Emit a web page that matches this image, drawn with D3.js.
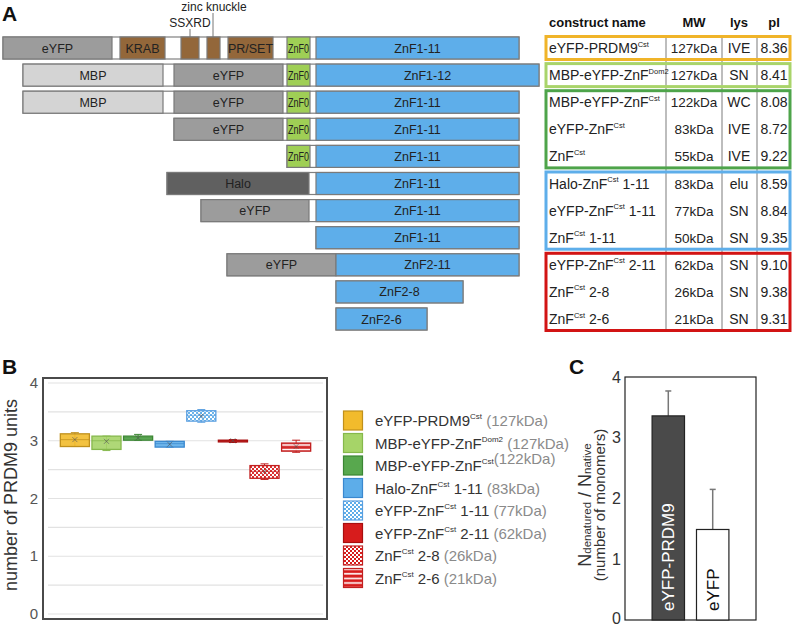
<!DOCTYPE html>
<html><head><meta charset="utf-8">
<script src="https://cdn.jsdelivr.net/npm/d3@7"></script>
<style>body{margin:0;background:#fff;} svg{font-family:"Liberation Sans",Arial,sans-serif;}</style>
</head><body><svg id="c" width="794" height="626"></svg>
<script>
// ---------------- DATA ----------------
// Panel A: construct extents (outline) and domains, in sequence units
const constructExtent = [[3,519],[23,539],[23,519],[174,519],[287,519],[167,519],[201,519],[316,519],[227,519],[336,463],[336,427]];
const constructDomains = [
  [["eYFP","eyfp",3,112],["KRAB","brown",120,165],["","brown",181,199],["","brown",207,220],["PR/SET","brown",228,273],["ZnF0","znf0",287,310],["ZnF1-11","znf",316,519]],
  [["MBP","mbp",23,163],["eYFP","eyfp",174,283],["ZnF0","znf0",287,310],["ZnF1-12","znf",316,539]],
  [["MBP","mbp",23,163],["eYFP","eyfp",174,283],["ZnF0","znf0",287,310],["ZnF1-11","znf",316,519]],
  [["eYFP","eyfp",174,283],["ZnF0","znf0",287,310],["ZnF1-11","znf",316,519]],
  [["ZnF0","znf0",287,310],["ZnF1-11","znf",316,519]],
  [["Halo","halo",167,309],["ZnF1-11","znf",316,519]],
  [["eYFP","eyfp",201,309],["ZnF1-11","znf",316,519]],
  [["ZnF1-11","znf",316,519]],
  [["eYFP","eyfp",227,336],["ZnF2-11","znf",336,519]],
  [["ZnF2-8","znf",336,463]],
  [["ZnF2-6","znf",336,427]]
];
const domainColors = {eyfp:"#9c9c9c", mbp:"#d4d4d4", halo:"#606060", brown:"#93673a", znf0:"#9fcf55", znf:"#5eaeea"};

// Table
const tableHeaders = ["construct name","MW","lys","pI"];
const tableNames = ["eYFP-PRDM9","MBP-eYFP-ZnF","MBP-eYFP-ZnF","eYFP-ZnF","ZnF","Halo-ZnF","eYFP-ZnF","ZnF","eYFP-ZnF","ZnF","ZnF"];
const tableSup = ["Cst","Dom2","Cst","Cst","Cst","Cst","Cst","Cst","Cst","Cst","Cst"];
const tableSuffix = ["","","","",""," 1-11"," 1-11"," 1-11"," 2-11"," 2-8"," 2-6"];
const tableMW = ["127kDa","127kDa","122kDa","83kDa","55kDa","83kDa","77kDa","50kDa","62kDa","26kDa","21kDa"];
const tableLys = ["IVE","SN","WC","IVE","IVE","elu","SN","SN","SN","SN","SN"];
const tablePI = ["8.36","8.41","8.08","8.72","9.22","8.59","8.84","9.35","9.10","9.38","9.31"];
const tableGroups = [[0,0,"#f0b429"],[1,1,"#a9d46a"],[2,4,"#4ea44a"],[5,7,"#5eaeea"],[8,10,"#d21414"]];

// Panel B box plots
const boxNames = ["eYFP-PRDM9","MBP-eYFP-ZnF","MBP-eYFP-ZnF","Halo-ZnF","eYFP-ZnF","eYFP-ZnF","ZnF","ZnF"];
const boxSup = ["Cst","Dom2","Cst","Cst","Cst","Cst","Cst","Cst"];
const legendSuffix = [" "," ",""," 1-11 "," 1-11 "," 2-11 "," 2-8 "," 2-6 "];
const boxKDa = ["(127kDa)","(127kDa)","(122kDa)","(83kDa)","(77kDa)","(62kDa)","(26kDa)","(21kDa)"];
const boxMin = [2.90,2.83,3.01,2.89,3.32,2.97,2.33,2.80];
const boxQ1  = [2.90,2.85,3.01,2.89,3.34,2.98,2.35,2.82];
const boxMed = [3.02,3.00,3.05,2.95,3.44,3.00,2.47,2.89];
const boxQ3  = [3.12,3.08,3.08,2.99,3.52,3.01,2.57,2.96];
const boxMax = [3.14,3.08,3.11,2.99,3.54,3.02,2.60,3.01];
const boxMean= [3.02,2.99,3.05,2.94,3.43,3.00,2.47,2.90];
const boxFill = ["#f2bb2c","#a6d468","#58a84e","#5dade9","url(#chkBlue)","#d71c1c","url(#chkRed)","url(#strRed)"];
const boxStroke = ["#c0901c","#86b84c","#3b8633","#3a88cf","#5a9fe0","#a80f0f","#c22020","#c22020"];
const yTicksB = [0,1,2,3,4];

// Panel C bars
const barNames = ["eYFP-PRDM9","eYFP"];
const barValues = [3.36,1.49];
const barErrors = [0.41,0.66];
const yTicksC = [0,1,2,3,4];

// ---------------- DRAW ----------------
const svg = d3.select("#c");
const defs = svg.append("defs");
function checker(id, col, s){
  const p = defs.append("pattern").attr("id",id).attr("patternUnits","userSpaceOnUse").attr("width",2*s).attr("height",2*s);
  p.append("rect").attr("width",2*s).attr("height",2*s).attr("fill","#fff");
  p.append("rect").attr("width",s).attr("height",s).attr("fill",col);
  p.append("rect").attr("x",s).attr("y",s).attr("width",s).attr("height",s).attr("fill",col);
}
checker("chkBlue","#5dade9",2);
checker("chkRed","#d71c1c",2);
const sp = defs.append("pattern").attr("id","strRed").attr("patternUnits","userSpaceOnUse").attr("width",4).attr("height",4.6);
sp.append("rect").attr("width",4).attr("height",4.6).attr("fill","#d71c1c");
sp.append("rect").attr("y",2.6).attr("width",4).attr("height",1.6).attr("fill","#fff");

function panelLabel(t,x,y){ svg.append("text").attr("x",x).attr("y",y).attr("font-size",21).attr("font-weight","bold").attr("fill","#111").text(t); }

// Panel A
panelLabel("A",2,21);
const xA = d3.scaleLinear().domain([0,540]).range([0,540]);
const rowY = d3.scalePoint().domain(d3.range(11)).range([48,319]);
const gA = svg.append("g");
constructExtent.forEach((e,i)=>{
  gA.append("rect").attr("x",xA(e[0])).attr("y",rowY(i)-11).attr("width",xA(e[1])-xA(e[0])).attr("height",22)
    .attr("fill","#fff").attr("stroke","#808080").attr("stroke-width",1.2);
  constructDomains[i].forEach(d=>{
    gA.append("rect").attr("x",xA(d[2])).attr("y",rowY(i)-11).attr("width",xA(d[3])-xA(d[2])).attr("height",22)
      .attr("fill",domainColors[d[1]]).attr("stroke","#7a7a7a").attr("stroke-width",1.2);
    if(d[0]){
      const t = gA.append("text").attr("x",(xA(d[2])+xA(d[3]))/2).attr("y",rowY(i)+4.5).attr("text-anchor","middle")
        .attr("font-size", d[1]==="znf0"?12.5:12.5).attr("fill","#222").text(d[0]);
      if(d[1]==="znf0") t.attr("textLength",21).attr("lengthAdjust","spacingAndGlyphs");
    }
  });
});
// annotations
gA.append("line").attr("x1",xA(190)).attr("x2",xA(190)).attr("y1",29).attr("y2",37).attr("stroke","#777");
gA.append("line").attr("x1",xA(213)).attr("x2",xA(213)).attr("y1",13).attr("y2",37).attr("stroke","#777");
gA.append("text").attr("x",xA(190)).attr("y",27).attr("text-anchor","middle").attr("font-size",12).attr("fill","#222").text("SSXRD");
gA.append("text").attr("x",xA(214)).attr("y",11).attr("text-anchor","middle").attr("font-size",12).attr("fill","#222").text("zinc knuckle");

// Table
const colX = [549,694,739,774];
const gT = svg.append("g");
tableHeaders.forEach((h,j)=>{
  gT.append("text").attr("x",colX[j]).attr("y",27).attr("text-anchor",j===0?"start":"middle")
    .attr("font-size",13).attr("font-weight","bold").attr("fill","#111").text(h);
});
[666,722,757].forEach(x=>gT.append("line").attr("x1",x).attr("x2",x).attr("y1",36).attr("y2",331).attr("stroke","#9a9a9a").attr("stroke-width",1.3));
tableNames.forEach((n,i)=>{
  const y = rowY(i)+5;
  const t = gT.append("text").attr("x",colX[0]).attr("y",y).attr("font-size",14).attr("fill","#222");
  t.append("tspan").text(n);
  t.append("tspan").attr("font-size",7.5).attr("dy",-6.5).text(tableSup[i]);
  t.append("tspan").attr("dy",6.5).text(tableSuffix[i]);
  gT.append("text").attr("x",colX[1]).attr("y",y).attr("text-anchor","middle").attr("font-size",13.5).attr("fill","#222").text(tableMW[i]);
  gT.append("text").attr("x",colX[2]).attr("y",y).attr("text-anchor","middle").attr("font-size",14).attr("fill","#222").text(tableLys[i]);
  gT.append("text").attr("x",colX[3]).attr("y",y).attr("text-anchor","middle").attr("font-size",14).attr("fill","#222").text(tablePI[i]);
});
tableGroups.forEach(g=>{
  gT.append("rect").attr("x",546).attr("y",rowY(g[0])-11.5).attr("width",244).attr("height",rowY(g[1])-rowY(g[0])+23)
    .attr("fill","none").attr("stroke",g[2]).attr("stroke-width",3);
});

// Panel B
panelLabel("B",2,374);
const yB = d3.scaleLinear().domain([0,4]).range([614,383]);
const xB = d3.scaleBand().domain(d3.range(8)).range([48,323]).paddingInner(0.08).paddingOuter(0.39);
const gB = svg.append("g");
d3.range(0,4.01,0.5).forEach(v=>gB.append("line").attr("x1",48).attr("x2",323).attr("y1",yB(v)).attr("y2",yB(v)).attr("stroke","#e2e2e2").attr("stroke-width",1.2));
gB.append("rect").attr("x",43).attr("y",378).attr("width",284).attr("height",241).attr("fill","none").attr("stroke","#4a4a4a").attr("stroke-width",2);
yTicksB.forEach(v=>gB.append("text").attr("x",38).attr("y",yB(v)+5).attr("text-anchor","end").attr("font-size",15).attr("fill","#555").text(v));
gB.append("text").attr("transform","translate(17,495) rotate(-90)").attr("text-anchor","middle").attr("font-size",18).attr("fill","#333").text("number of PRDM9 units");
boxMin.forEach((mn,i)=>{
  const x0 = xB(i), w = xB.bandwidth(), cx = x0+w/2;
  gB.append("line").attr("x1",cx).attr("x2",cx).attr("y1",yB(boxMax[i])).attr("y2",yB(boxMin[i])).attr("stroke",boxStroke[i]);
  [boxMax[i],boxMin[i]].forEach(v=>gB.append("line").attr("x1",cx-4).attr("x2",cx+4).attr("y1",yB(v)).attr("y2",yB(v)).attr("stroke",boxStroke[i]));
  gB.append("rect").attr("x",x0).attr("y",yB(boxQ3[i])).attr("width",w).attr("height",Math.max(1.5,yB(boxQ1[i])-yB(boxQ3[i])))
    .attr("fill",boxFill[i]).attr("fill-opacity",0.9).attr("stroke",boxStroke[i]).attr("stroke-width",1.3);
  gB.append("line").attr("x1",x0).attr("x2",x0+w).attr("y1",yB(boxMed[i])).attr("y2",yB(boxMed[i])).attr("stroke",boxStroke[i]).attr("stroke-opacity",0.7);
  const my = yB(boxMean[i]);
  gB.append("path").attr("d",`M${cx-2.5},${my-2.5}L${cx+2.5},${my+2.5}M${cx-2.5},${my+2.5}L${cx+2.5},${my-2.5}`).attr("stroke","#555").attr("stroke-opacity",0.7).attr("stroke-width",0.9);
});
// Legend
const legY = d3.scalePoint().domain(d3.range(8)).range([420.5,578]);
boxNames.forEach((n,i)=>{
  const y = legY(i);
  gB.append("rect").attr("x",343.5).attr("y",y-9.5).attr("width",19).attr("height",19).attr("fill",boxFill[i]).attr("stroke",boxStroke[i]).attr("stroke-width",1.2);
  const t = gB.append("text").attr("x",375).attr("y",y+5.5).attr("font-size",15).attr("fill","#333");
  t.append("tspan").text(n);
  t.append("tspan").attr("font-size",8).attr("dy",-7).text(boxSup[i]);
  t.append("tspan").attr("dy",7).text(legendSuffix[i]);
  t.append("tspan").attr("fill","#8a8a8a").text(boxKDa[i]);
});

// Panel C
panelLabel("C",569,374);
const yC = d3.scaleLinear().domain([0,4]).range([620,377]);
const xC = d3.scaleBand().domain(barNames).range([625,756]).paddingInner(0.27).paddingOuter(0.61);
const gC = svg.append("g");
gC.append("rect").attr("x",625).attr("y",377).attr("width",131).attr("height",243).attr("fill","none").attr("stroke","#222").attr("stroke-width",1.2);
yTicksC.forEach(v=>gC.append("text").attr("x",621).attr("y",Math.min(yC(v)+5.5,624)).attr("text-anchor","end").attr("font-size",16).attr("fill","#333").text(v));
barNames.forEach((n,i)=>{
  const x0 = xC(n), w = xC.bandwidth(), cx = x0+w/2;
  gC.append("line").attr("x1",cx).attr("x2",cx).attr("y1",yC(barValues[i])).attr("y2",yC(barValues[i]+barErrors[i])).attr("stroke","#777").attr("stroke-width",1.5);
  gC.append("line").attr("x1",cx-3).attr("x2",cx+3).attr("y1",yC(barValues[i]+barErrors[i])).attr("y2",yC(barValues[i]+barErrors[i])).attr("stroke","#777").attr("stroke-width",1.5);
  gC.append("rect").attr("x",x0).attr("y",yC(barValues[i])).attr("width",w).attr("height",yC(0)-yC(barValues[i]))
    .attr("fill",i===0?"#4a4a4a":"#fff").attr("stroke","#222").attr("stroke-width",1.2);
  gC.append("text").attr("transform",`translate(${cx+6},${611}) rotate(-90)`).attr("font-size",17).attr("fill",i===0?"#fff":"#111").text(n);
});
const tC = gC.append("text").attr("transform","translate(591,505) rotate(-90)").attr("text-anchor","middle").attr("font-size",18).attr("fill","#333");
tC.append("tspan").text("N");
tC.append("tspan").attr("font-size",11.5).text("denatured");
tC.append("tspan").text(" / N");
tC.append("tspan").attr("font-size",11.5).text("native");
gC.append("text").attr("transform","translate(605,505) rotate(-90)").attr("text-anchor","middle").attr("font-size",15).attr("fill","#333").text("(number of monomers)");
</script></body></html>
